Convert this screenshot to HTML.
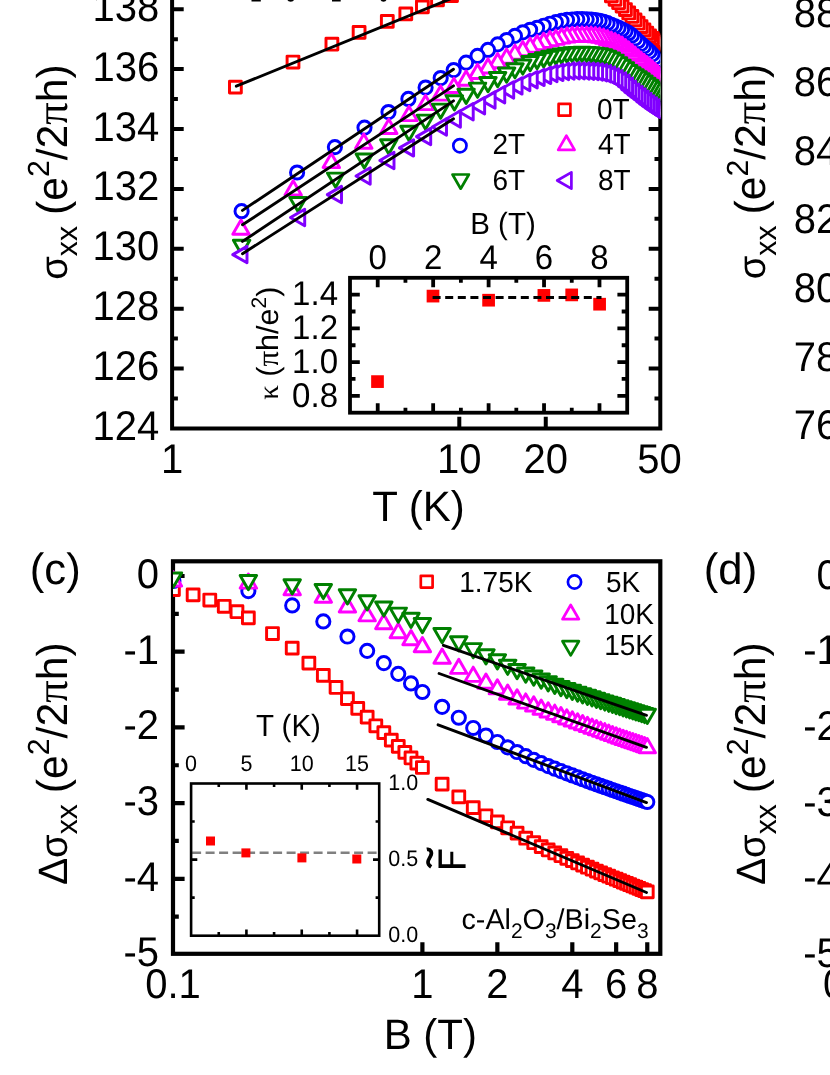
<!DOCTYPE html>
<html><head><meta charset="utf-8"><title>figure</title>
<style>html,body{margin:0;padding:0;background:#fff}svg{display:block;will-change:transform}text{font-family:"Liberation Sans",sans-serif;fill:#000;text-rendering:geometricPrecision}.sf{font-family:"Liberation Serif",serif}</style>
</head><body>
<svg width="830" height="1075" viewBox="0 0 830 1075">
<rect width="830" height="1075" fill="#fff"/>
<defs>
<clipPath id="ca"><rect x="172.1" y="-20" width="488.2" height="448.4"/></clipPath>
<clipPath id="cc"><rect x="173" y="561.3" width="487.3" height="392.5"/></clipPath>
</defs>
<g stroke="#000" stroke-width="4" fill="none" stroke-linecap="butt">
<path d="M172.1 -5V428.4H660.3V-5"/>
<path d="M172.1 398.46h5.8M660.3 398.46h-5.8M172.1 368.52h11.6M660.3 368.52h-11.6M172.1 338.58h5.8M660.3 338.58h-5.8M172.1 308.64h11.6M660.3 308.64h-11.6M172.1 278.7h5.8M660.3 278.7h-5.8M172.1 248.76h11.6M660.3 248.76h-11.6M172.1 218.82h5.8M660.3 218.82h-5.8M172.1 188.88h11.6M660.3 188.88h-11.6M172.1 158.94h5.8M660.3 158.94h-5.8M172.1 129h11.6M660.3 129h-11.6M172.1 99.06h5.8M660.3 99.06h-5.8M172.1 69.12h11.6M660.3 69.12h-11.6M172.1 39.18h5.8M660.3 39.18h-5.8M172.1 9.24h11.6M660.3 9.24h-11.6M172.1 -20.7h5.8M660.3 -20.7h-5.8M459.3 428.4v-11.6M545.76 428.4v-11.6"/>
</g>
<text transform="translate(159.3 439.9) scale(0.962 1)" font-size="41.6" text-anchor="end">124</text>
<text transform="translate(159.3 380.02) scale(0.962 1)" font-size="41.6" text-anchor="end">126</text>
<text transform="translate(159.3 320.14) scale(0.962 1)" font-size="41.6" text-anchor="end">128</text>
<text transform="translate(159.3 260.26) scale(0.962 1)" font-size="41.6" text-anchor="end">130</text>
<text transform="translate(159.3 200.38) scale(0.962 1)" font-size="41.6" text-anchor="end">132</text>
<text transform="translate(159.3 140.5) scale(0.962 1)" font-size="41.6" text-anchor="end">134</text>
<text transform="translate(159.3 80.62) scale(0.962 1)" font-size="41.6" text-anchor="end">136</text>
<text transform="translate(159.3 20.74) scale(0.962 1)" font-size="41.6" text-anchor="end">138</text>
<text transform="translate(172.1 473) scale(0.962 1)" font-size="41.6" text-anchor="middle">1</text>
<text transform="translate(459.3 473) scale(0.962 1)" font-size="41.6" text-anchor="middle">10</text>
<text transform="translate(545.76 473) scale(0.962 1)" font-size="41.6" text-anchor="middle">20</text>
<text transform="translate(659.5 473) scale(0.962 1)" font-size="41.6" text-anchor="middle">50</text>
<text transform="translate(418.4 521) scale(0.985 1)" font-size="42.64" text-anchor="middle">T (K)</text>
<g fill="#000"><rect x="251.5" y="0" width="9.3" height="1.5"/><ellipse cx="290.7" cy="-1.5" rx="3.6" ry="3.2"/><rect x="332" y="0" width="8.7" height="1.5"/><ellipse cx="383.5" cy="-1.5" rx="3.2" ry="3.2"/></g>
<g clip-path="url(#ca)" stroke-width="2.95" stroke-linejoin="round">
<rect x="654.22" y="38.7" width="11.8" height="11.8" fill="#fff" stroke="#ff0000"/>
<rect x="651.67" y="36.64" width="11.8" height="11.8" fill="#fff" stroke="#ff0000"/>
<rect x="649.07" y="34.63" width="11.8" height="11.8" fill="#fff" stroke="#ff0000"/>
<rect x="646.41" y="32.49" width="11.8" height="11.8" fill="#fff" stroke="#ff0000"/>
<rect x="643.7" y="30.01" width="11.8" height="11.8" fill="#fff" stroke="#ff0000"/>
<rect x="640.92" y="27.14" width="11.8" height="11.8" fill="#fff" stroke="#ff0000"/>
<rect x="638.08" y="23.99" width="11.8" height="11.8" fill="#fff" stroke="#ff0000"/>
<rect x="635.18" y="20.67" width="11.8" height="11.8" fill="#fff" stroke="#ff0000"/>
<rect x="632.2" y="17.31" width="11.8" height="11.8" fill="#fff" stroke="#ff0000"/>
<rect x="629.15" y="13.98" width="11.8" height="11.8" fill="#fff" stroke="#ff0000"/>
<rect x="626.03" y="10.57" width="11.8" height="11.8" fill="#fff" stroke="#ff0000"/>
<rect x="622.83" y="7.09" width="11.8" height="11.8" fill="#fff" stroke="#ff0000"/>
<rect x="619.54" y="3.6" width="11.8" height="11.8" fill="#fff" stroke="#ff0000"/>
<rect x="616.16" y="0.16" width="11.8" height="11.8" fill="#fff" stroke="#ff0000"/>
<rect x="612.69" y="-3.2" width="11.8" height="11.8" fill="#fff" stroke="#ff0000"/>
<rect x="609.12" y="-6.56" width="11.8" height="11.8" fill="#fff" stroke="#ff0000"/>
<rect x="605.45" y="-9.99" width="11.8" height="11.8" fill="#fff" stroke="#ff0000"/>
<rect x="601.66" y="-13.59" width="11.8" height="11.8" fill="#fff" stroke="#ff0000"/>
<rect x="597.75" y="-17.38" width="11.8" height="11.8" fill="#fff" stroke="#ff0000"/>
<rect x="593.72" y="-21.33" width="11.8" height="11.8" fill="#fff" stroke="#ff0000"/>
<rect x="445.6" y="-10.4" width="11.8" height="11.8" fill="#fff" stroke="#ff0000"/>
<rect x="431.6" y="-6.15" width="11.8" height="11.8" fill="#fff" stroke="#ff0000"/>
<rect x="416.5" y="1" width="11.8" height="11.8" fill="#fff" stroke="#ff0000"/>
<rect x="399.9" y="7.9" width="11.8" height="11.8" fill="#fff" stroke="#ff0000"/>
<rect x="381.4" y="15.4" width="11.8" height="11.8" fill="#fff" stroke="#ff0000"/>
<rect x="353.2" y="26.4" width="11.8" height="11.8" fill="#fff" stroke="#ff0000"/>
<rect x="326" y="38.3" width="11.8" height="11.8" fill="#fff" stroke="#ff0000"/>
<rect x="287.1" y="56.1" width="11.8" height="11.8" fill="#fff" stroke="#ff0000"/>
<rect x="229.5" y="81.2" width="11.8" height="11.8" fill="#fff" stroke="#ff0000"/>
<circle cx="662.62" cy="66.09" r="6.6" fill="#fff" stroke="#0000ff"/>
<circle cx="660.12" cy="63.14" r="6.6" fill="#fff" stroke="#0000ff"/>
<circle cx="657.57" cy="60.2" r="6.6" fill="#fff" stroke="#0000ff"/>
<circle cx="654.97" cy="57.27" r="6.6" fill="#fff" stroke="#0000ff"/>
<circle cx="652.31" cy="54.38" r="6.6" fill="#fff" stroke="#0000ff"/>
<circle cx="649.6" cy="51.57" r="6.6" fill="#fff" stroke="#0000ff"/>
<circle cx="646.82" cy="48.89" r="6.6" fill="#fff" stroke="#0000ff"/>
<circle cx="643.98" cy="46.36" r="6.6" fill="#fff" stroke="#0000ff"/>
<circle cx="641.08" cy="43.88" r="6.6" fill="#fff" stroke="#0000ff"/>
<circle cx="638.1" cy="41.21" r="6.6" fill="#fff" stroke="#0000ff"/>
<circle cx="635.05" cy="38.27" r="6.6" fill="#fff" stroke="#0000ff"/>
<circle cx="631.93" cy="35.44" r="6.6" fill="#fff" stroke="#0000ff"/>
<circle cx="628.73" cy="33.18" r="6.6" fill="#fff" stroke="#0000ff"/>
<circle cx="625.44" cy="31.23" r="6.6" fill="#fff" stroke="#0000ff"/>
<circle cx="622.06" cy="29.45" r="6.6" fill="#fff" stroke="#0000ff"/>
<circle cx="618.59" cy="27.8" r="6.6" fill="#fff" stroke="#0000ff"/>
<circle cx="615.02" cy="26.25" r="6.6" fill="#fff" stroke="#0000ff"/>
<circle cx="611.35" cy="24.73" r="6.6" fill="#fff" stroke="#0000ff"/>
<circle cx="607.56" cy="23.16" r="6.6" fill="#fff" stroke="#0000ff"/>
<circle cx="603.65" cy="21.73" r="6.6" fill="#fff" stroke="#0000ff"/>
<circle cx="599.62" cy="20.73" r="6.6" fill="#fff" stroke="#0000ff"/>
<circle cx="595.45" cy="20.13" r="6.6" fill="#fff" stroke="#0000ff"/>
<circle cx="591.14" cy="19.69" r="6.6" fill="#fff" stroke="#0000ff"/>
<circle cx="586.68" cy="19.36" r="6.6" fill="#fff" stroke="#0000ff"/>
<circle cx="582.05" cy="19.12" r="6.6" fill="#fff" stroke="#0000ff"/>
<circle cx="577.24" cy="19.16" r="6.6" fill="#fff" stroke="#0000ff"/>
<circle cx="572.23" cy="19.45" r="6.6" fill="#fff" stroke="#0000ff"/>
<circle cx="567.02" cy="19.91" r="6.6" fill="#fff" stroke="#0000ff"/>
<circle cx="561.58" cy="20.88" r="6.6" fill="#fff" stroke="#0000ff"/>
<circle cx="555.9" cy="22.19" r="6.6" fill="#fff" stroke="#0000ff"/>
<circle cx="549.94" cy="23.73" r="6.6" fill="#fff" stroke="#0000ff"/>
<circle cx="543.68" cy="25.73" r="6.6" fill="#fff" stroke="#0000ff"/>
<circle cx="537.09" cy="27.82" r="6.6" fill="#fff" stroke="#0000ff"/>
<circle cx="530.14" cy="29.78" r="6.6" fill="#fff" stroke="#0000ff"/>
<circle cx="522.77" cy="32.4" r="6.6" fill="#fff" stroke="#0000ff"/>
<circle cx="514.94" cy="35.89" r="6.6" fill="#fff" stroke="#0000ff"/>
<circle cx="506.59" cy="40.03" r="6.6" fill="#fff" stroke="#0000ff"/>
<circle cx="497.63" cy="44.35" r="6.6" fill="#fff" stroke="#0000ff"/>
<circle cx="487.99" cy="49.92" r="6.6" fill="#fff" stroke="#0000ff"/>
<circle cx="477.53" cy="55.92" r="6.6" fill="#fff" stroke="#0000ff"/>
<circle cx="466.12" cy="62.59" r="6.6" fill="#fff" stroke="#0000ff"/>
<circle cx="453.7" cy="70.08" r="6.6" fill="#fff" stroke="#0000ff"/>
<circle cx="440.7" cy="78.05" r="6.6" fill="#fff" stroke="#0000ff"/>
<circle cx="425.6" cy="87.51" r="6.6" fill="#fff" stroke="#0000ff"/>
<circle cx="408.4" cy="98.93" r="6.6" fill="#fff" stroke="#0000ff"/>
<circle cx="388.5" cy="112.07" r="6.6" fill="#fff" stroke="#0000ff"/>
<circle cx="364.5" cy="127.6" r="6.6" fill="#fff" stroke="#0000ff"/>
<circle cx="334.9" cy="147.1" r="6.6" fill="#fff" stroke="#0000ff"/>
<circle cx="297.1" cy="172.5" r="6.6" fill="#fff" stroke="#0000ff"/>
<circle cx="241.6" cy="211.2" r="6.6" fill="#fff" stroke="#0000ff"/>
<path d="M662.62 69.98L670.82 84.18L654.42 84.18Z" fill="#fff" stroke="#ff00ff"/>
<path d="M660.12 67.8L668.32 82L651.92 82Z" fill="#fff" stroke="#ff00ff"/>
<path d="M657.57 65.58L665.77 79.78L649.37 79.78Z" fill="#fff" stroke="#ff00ff"/>
<path d="M654.97 63.3L663.17 77.5L646.77 77.5Z" fill="#fff" stroke="#ff00ff"/>
<path d="M652.31 61L660.51 75.2L644.11 75.2Z" fill="#fff" stroke="#ff00ff"/>
<path d="M649.6 58.7L657.8 72.91L641.4 72.91Z" fill="#fff" stroke="#ff00ff"/>
<path d="M646.82 56.46L655.02 70.67L638.62 70.67Z" fill="#fff" stroke="#ff00ff"/>
<path d="M643.98 54.31L652.18 68.52L635.78 68.52Z" fill="#fff" stroke="#ff00ff"/>
<path d="M641.08 52.13L649.28 66.33L632.88 66.33Z" fill="#fff" stroke="#ff00ff"/>
<path d="M638.1 49.75L646.3 63.95L629.9 63.95Z" fill="#fff" stroke="#ff00ff"/>
<path d="M635.05 47.12L643.25 61.32L626.85 61.32Z" fill="#fff" stroke="#ff00ff"/>
<path d="M631.93 44.44L640.13 58.65L623.73 58.65Z" fill="#fff" stroke="#ff00ff"/>
<path d="M628.73 41.92L636.93 56.12L620.53 56.12Z" fill="#fff" stroke="#ff00ff"/>
<path d="M625.44 39.43L633.64 53.63L617.24 53.63Z" fill="#fff" stroke="#ff00ff"/>
<path d="M622.06 37.1L630.26 51.31L613.86 51.31Z" fill="#fff" stroke="#ff00ff"/>
<path d="M618.59 35.18L626.79 49.38L610.39 49.38Z" fill="#fff" stroke="#ff00ff"/>
<path d="M615.02 33.6L623.22 47.8L606.82 47.8Z" fill="#fff" stroke="#ff00ff"/>
<path d="M611.35 32.14L619.55 46.34L603.15 46.34Z" fill="#fff" stroke="#ff00ff"/>
<path d="M607.56 30.58L615.76 44.78L599.36 44.78Z" fill="#fff" stroke="#ff00ff"/>
<path d="M603.65 29.12L611.85 43.32L595.45 43.32Z" fill="#fff" stroke="#ff00ff"/>
<path d="M599.62 28.14L607.82 42.34L591.42 42.34Z" fill="#fff" stroke="#ff00ff"/>
<path d="M595.45 27.54L603.65 41.74L587.25 41.74Z" fill="#fff" stroke="#ff00ff"/>
<path d="M591.14 27.15L599.34 41.35L582.94 41.35Z" fill="#fff" stroke="#ff00ff"/>
<path d="M586.68 27L594.88 41.2L578.48 41.2Z" fill="#fff" stroke="#ff00ff"/>
<path d="M582.05 26.91L590.25 41.11L573.85 41.11Z" fill="#fff" stroke="#ff00ff"/>
<path d="M577.24 26.95L585.44 41.15L569.04 41.15Z" fill="#fff" stroke="#ff00ff"/>
<path d="M572.23 27.24L580.43 41.44L564.03 41.44Z" fill="#fff" stroke="#ff00ff"/>
<path d="M567.02 27.73L575.22 41.93L558.82 41.93Z" fill="#fff" stroke="#ff00ff"/>
<path d="M561.58 28.8L569.78 43L553.38 43Z" fill="#fff" stroke="#ff00ff"/>
<path d="M555.9 30.16L564.1 44.36L547.7 44.36Z" fill="#fff" stroke="#ff00ff"/>
<path d="M549.94 31.53L558.14 45.73L541.74 45.73Z" fill="#fff" stroke="#ff00ff"/>
<path d="M543.68 33.3L551.88 47.5L535.48 47.5Z" fill="#fff" stroke="#ff00ff"/>
<path d="M537.09 35.52L545.29 49.72L528.89 49.72Z" fill="#fff" stroke="#ff00ff"/>
<path d="M530.14 38.12L538.34 52.33L521.94 52.33Z" fill="#fff" stroke="#ff00ff"/>
<path d="M522.77 41.5L530.97 55.7L514.57 55.7Z" fill="#fff" stroke="#ff00ff"/>
<path d="M514.94 45.12L523.14 59.32L506.74 59.32Z" fill="#fff" stroke="#ff00ff"/>
<path d="M506.59 48.97L514.79 63.17L498.39 63.17Z" fill="#fff" stroke="#ff00ff"/>
<path d="M497.63 53.56L505.83 67.77L489.43 67.77Z" fill="#fff" stroke="#ff00ff"/>
<path d="M487.99 58.75L496.19 72.95L479.79 72.95Z" fill="#fff" stroke="#ff00ff"/>
<path d="M477.53 64.21L485.73 78.42L469.33 78.42Z" fill="#fff" stroke="#ff00ff"/>
<path d="M466.12 71.07L474.32 85.27L457.92 85.27Z" fill="#fff" stroke="#ff00ff"/>
<path d="M453.9 78.22L462.1 92.42L445.7 92.42Z" fill="#fff" stroke="#ff00ff"/>
<path d="M440.6 85.9L448.8 100.1L432.4 100.1Z" fill="#fff" stroke="#ff00ff"/>
<path d="M425.5 95.4L433.7 109.6L417.3 109.6Z" fill="#fff" stroke="#ff00ff"/>
<path d="M409 106.4L417.2 120.6L400.8 120.6Z" fill="#fff" stroke="#ff00ff"/>
<path d="M388.8 119.3L397 133.5L380.6 133.5Z" fill="#fff" stroke="#ff00ff"/>
<path d="M363.8 134.1L372 148.3L355.6 148.3Z" fill="#fff" stroke="#ff00ff"/>
<path d="M331.3 153.4L339.5 167.6L323.1 167.6Z" fill="#fff" stroke="#ff00ff"/>
<path d="M293.2 180.7L301.4 194.9L285 194.9Z" fill="#fff" stroke="#ff00ff"/>
<path d="M241 220.1L249.2 234.3L232.8 234.3Z" fill="#fff" stroke="#ff00ff"/>
<path d="M662.62 103.31L670.82 89.1L654.42 89.1Z" fill="#fff" stroke="#008000"/>
<path d="M660.12 101.68L668.32 87.48L651.92 87.48Z" fill="#fff" stroke="#008000"/>
<path d="M657.57 100.01L665.77 85.81L649.37 85.81Z" fill="#fff" stroke="#008000"/>
<path d="M654.97 98.28L663.17 84.08L646.77 84.08Z" fill="#fff" stroke="#008000"/>
<path d="M652.31 96.47L660.51 82.27L644.11 82.27Z" fill="#fff" stroke="#008000"/>
<path d="M649.6 94.52L657.8 80.31L641.4 80.31Z" fill="#fff" stroke="#008000"/>
<path d="M646.82 92.37L655.02 78.17L638.62 78.17Z" fill="#fff" stroke="#008000"/>
<path d="M643.98 90.13L652.18 75.93L635.78 75.93Z" fill="#fff" stroke="#008000"/>
<path d="M641.08 87.95L649.28 73.75L632.88 73.75Z" fill="#fff" stroke="#008000"/>
<path d="M638.1 85.94L646.3 71.74L629.9 71.74Z" fill="#fff" stroke="#008000"/>
<path d="M635.05 84L643.25 69.8L626.85 69.8Z" fill="#fff" stroke="#008000"/>
<path d="M631.93 81.96L640.13 67.75L623.73 67.75Z" fill="#fff" stroke="#008000"/>
<path d="M628.73 79.63L636.93 65.43L620.53 65.43Z" fill="#fff" stroke="#008000"/>
<path d="M625.44 77.04L633.64 62.84L617.24 62.84Z" fill="#fff" stroke="#008000"/>
<path d="M622.06 74.45L630.26 60.24L613.86 60.24Z" fill="#fff" stroke="#008000"/>
<path d="M618.59 71.87L626.79 57.67L610.39 57.67Z" fill="#fff" stroke="#008000"/>
<path d="M615.02 69.34L623.22 55.14L606.82 55.14Z" fill="#fff" stroke="#008000"/>
<path d="M611.35 67.28L619.55 53.08L603.15 53.08Z" fill="#fff" stroke="#008000"/>
<path d="M607.56 65.51L615.76 51.31L599.36 51.31Z" fill="#fff" stroke="#008000"/>
<path d="M603.65 64L611.85 49.79L595.45 49.79Z" fill="#fff" stroke="#008000"/>
<path d="M599.62 63.04L607.82 48.84L591.42 48.84Z" fill="#fff" stroke="#008000"/>
<path d="M595.45 62.44L603.65 48.24L587.25 48.24Z" fill="#fff" stroke="#008000"/>
<path d="M591.14 61.93L599.34 47.73L582.94 47.73Z" fill="#fff" stroke="#008000"/>
<path d="M586.68 61.6L594.88 47.39L578.48 47.39Z" fill="#fff" stroke="#008000"/>
<path d="M582.05 61.5L590.25 47.3L573.85 47.3Z" fill="#fff" stroke="#008000"/>
<path d="M577.24 61.62L585.44 47.42L569.04 47.42Z" fill="#fff" stroke="#008000"/>
<path d="M572.23 61.88L580.43 47.68L564.03 47.68Z" fill="#fff" stroke="#008000"/>
<path d="M567.02 62.32L575.22 48.12L558.82 48.12Z" fill="#fff" stroke="#008000"/>
<path d="M561.58 63.21L569.78 49.01L553.38 49.01Z" fill="#fff" stroke="#008000"/>
<path d="M555.9 64.23L564.1 50.03L547.7 50.03Z" fill="#fff" stroke="#008000"/>
<path d="M549.94 65.46L558.14 51.26L541.74 51.26Z" fill="#fff" stroke="#008000"/>
<path d="M543.68 66.98L551.88 52.78L535.48 52.78Z" fill="#fff" stroke="#008000"/>
<path d="M537.09 68.7L545.29 54.49L528.89 54.49Z" fill="#fff" stroke="#008000"/>
<path d="M530.14 70.73L538.34 56.53L521.94 56.53Z" fill="#fff" stroke="#008000"/>
<path d="M522.77 74.12L530.97 59.92L514.57 59.92Z" fill="#fff" stroke="#008000"/>
<path d="M514.94 77.88L523.14 63.68L506.74 63.68Z" fill="#fff" stroke="#008000"/>
<path d="M506.59 82.2L514.79 68L498.39 68Z" fill="#fff" stroke="#008000"/>
<path d="M497.63 86.74L505.83 72.53L489.43 72.53Z" fill="#fff" stroke="#008000"/>
<path d="M487.99 91.75L496.19 77.55L479.79 77.55Z" fill="#fff" stroke="#008000"/>
<path d="M477.53 97.34L485.73 83.14L469.33 83.14Z" fill="#fff" stroke="#008000"/>
<path d="M466.12 103.48L474.32 89.28L457.92 89.28Z" fill="#fff" stroke="#008000"/>
<path d="M454.4 109.95L462.6 95.74L446.2 95.74Z" fill="#fff" stroke="#008000"/>
<path d="M440.6 118.3L448.8 104.1L432.4 104.1Z" fill="#fff" stroke="#008000"/>
<path d="M425.5 129.3L433.7 115.1L417.3 115.1Z" fill="#fff" stroke="#008000"/>
<path d="M409 140.4L417.2 126.2L400.8 126.2Z" fill="#fff" stroke="#008000"/>
<path d="M388.8 153.9L397 139.7L380.6 139.7Z" fill="#fff" stroke="#008000"/>
<path d="M364.3 168.1L372.5 153.9L356.1 153.9Z" fill="#fff" stroke="#008000"/>
<path d="M335.6 187.3L343.8 173.1L327.4 173.1Z" fill="#fff" stroke="#008000"/>
<path d="M298 211.6L306.2 197.4L289.8 197.4Z" fill="#fff" stroke="#008000"/>
<path d="M241.6 254.5L249.8 240.3L233.4 240.3Z" fill="#fff" stroke="#008000"/>
<path d="M655.52 114.76L669.72 106.56L669.72 122.96Z" fill="#fff" stroke="#8000ff"/>
<path d="M653.02 113.08L667.22 104.88L667.22 121.28Z" fill="#fff" stroke="#8000ff"/>
<path d="M650.47 111.38L664.67 103.18L664.67 119.58Z" fill="#fff" stroke="#8000ff"/>
<path d="M647.87 109.65L662.07 101.45L662.07 117.85Z" fill="#fff" stroke="#8000ff"/>
<path d="M645.21 107.86L659.41 99.66L659.41 116.06Z" fill="#fff" stroke="#8000ff"/>
<path d="M642.49 105.96L656.7 97.76L656.7 114.16Z" fill="#fff" stroke="#8000ff"/>
<path d="M639.72 103.9L653.92 95.7L653.92 112.1Z" fill="#fff" stroke="#8000ff"/>
<path d="M636.88 101.62L651.08 93.42L651.08 109.82Z" fill="#fff" stroke="#8000ff"/>
<path d="M633.97 99.26L648.18 91.06L648.18 107.46Z" fill="#fff" stroke="#8000ff"/>
<path d="M631 96.95L645.2 88.75L645.2 105.15Z" fill="#fff" stroke="#8000ff"/>
<path d="M627.95 94.61L642.16 86.41L642.16 102.81Z" fill="#fff" stroke="#8000ff"/>
<path d="M624.83 92.13L639.03 83.93L639.03 100.33Z" fill="#fff" stroke="#8000ff"/>
<path d="M621.63 89.35L635.83 81.15L635.83 97.55Z" fill="#fff" stroke="#8000ff"/>
<path d="M618.34 86.21L632.54 78.01L632.54 94.41Z" fill="#fff" stroke="#8000ff"/>
<path d="M614.96 83.35L629.16 75.15L629.16 91.55Z" fill="#fff" stroke="#8000ff"/>
<path d="M611.49 80.97L625.69 72.77L625.69 89.17Z" fill="#fff" stroke="#8000ff"/>
<path d="M607.92 78.84L622.12 70.64L622.12 87.04Z" fill="#fff" stroke="#8000ff"/>
<path d="M604.24 77L618.45 68.8L618.45 85.2Z" fill="#fff" stroke="#8000ff"/>
<path d="M600.46 75.29L614.66 67.09L614.66 83.49Z" fill="#fff" stroke="#8000ff"/>
<path d="M596.55 73.79L610.75 65.59L610.75 81.99Z" fill="#fff" stroke="#8000ff"/>
<path d="M592.52 72.72L606.72 64.52L606.72 80.92Z" fill="#fff" stroke="#8000ff"/>
<path d="M588.35 72.02L602.55 63.82L602.55 80.22Z" fill="#fff" stroke="#8000ff"/>
<path d="M584.04 71.58L598.24 63.38L598.24 79.78Z" fill="#fff" stroke="#8000ff"/>
<path d="M579.58 71.3L593.78 63.1L593.78 79.5Z" fill="#fff" stroke="#8000ff"/>
<path d="M574.94 71.06L589.15 62.86L589.15 79.26Z" fill="#fff" stroke="#8000ff"/>
<path d="M570.14 70.88L584.34 62.68L584.34 79.08Z" fill="#fff" stroke="#8000ff"/>
<path d="M565.13 70.8L579.34 62.6L579.34 79Z" fill="#fff" stroke="#8000ff"/>
<path d="M559.92 70.97L574.12 62.77L574.12 79.17Z" fill="#fff" stroke="#8000ff"/>
<path d="M554.48 71.53L568.68 63.33L568.68 79.73Z" fill="#fff" stroke="#8000ff"/>
<path d="M548.8 72.42L563 64.22L563 80.62Z" fill="#fff" stroke="#8000ff"/>
<path d="M542.84 73.56L557.04 65.36L557.04 81.76Z" fill="#fff" stroke="#8000ff"/>
<path d="M536.58 75.42L550.78 67.22L550.78 83.62Z" fill="#fff" stroke="#8000ff"/>
<path d="M529.99 77.42L544.19 69.22L544.19 85.62Z" fill="#fff" stroke="#8000ff"/>
<path d="M523.04 79.7L537.24 71.5L537.24 87.9Z" fill="#fff" stroke="#8000ff"/>
<path d="M515.67 82.49L529.87 74.29L529.87 90.69Z" fill="#fff" stroke="#8000ff"/>
<path d="M507.84 85.94L522.04 77.74L522.04 94.14Z" fill="#fff" stroke="#8000ff"/>
<path d="M499.49 89.96L513.69 81.76L513.69 98.16Z" fill="#fff" stroke="#8000ff"/>
<path d="M490.53 94.76L504.74 86.56L504.74 102.96Z" fill="#fff" stroke="#8000ff"/>
<path d="M480.89 100.1L495.09 91.9L495.09 108.3Z" fill="#fff" stroke="#8000ff"/>
<path d="M470.43 105.77L484.63 97.57L484.63 113.97Z" fill="#fff" stroke="#8000ff"/>
<path d="M459.02 111.77L473.22 103.57L473.22 119.97Z" fill="#fff" stroke="#8000ff"/>
<path d="M446.2 119.04L460.4 110.84L460.4 127.24Z" fill="#fff" stroke="#8000ff"/>
<path d="M432.3 127L446.5 118.8L446.5 135.2Z" fill="#fff" stroke="#8000ff"/>
<path d="M416.5 136.6L430.7 128.4L430.7 144.8Z" fill="#fff" stroke="#8000ff"/>
<path d="M399.4 147.9L413.6 139.7L413.6 156.1Z" fill="#fff" stroke="#8000ff"/>
<path d="M379.8 160.5L394 152.3L394 168.7Z" fill="#fff" stroke="#8000ff"/>
<path d="M356 176L370.2 167.8L370.2 184.2Z" fill="#fff" stroke="#8000ff"/>
<path d="M327.3 194.6L341.5 186.4L341.5 202.8Z" fill="#fff" stroke="#8000ff"/>
<path d="M290.5 217.5L304.7 209.3L304.7 225.7Z" fill="#fff" stroke="#8000ff"/>
<path d="M232.8 254.6L247 246.4L247 262.8Z" fill="#fff" stroke="#8000ff"/>
</g>
<g stroke="#000" stroke-width="2.9" fill="none" stroke-linecap="round">
<path d="M236.3 86.2L453.5 -2.4"/>
<path d="M242.5 210.4L453.5 69.2"/>
<path d="M242.5 224.8L453.5 85.9"/>
<path d="M242.5 241.4L453.5 100.9"/>
<path d="M242.5 253.7L453.5 118.8"/>
</g>
<g stroke-width="2.7" stroke-linejoin="round">
<rect x="558.6" y="103.9" width="11.8" height="11.8" fill="none" stroke="#ff0000"/>
<circle cx="459.9" cy="145.7" r="6.6" fill="none" stroke="#0000ff"/>
<path d="M566.4 135.7L574.6 149.9L558.2 149.9Z" fill="none" stroke="#ff00ff"/>
<path d="M460.7 188.7L468.9 174.5L452.5 174.5Z" fill="none" stroke="#008000"/>
<path d="M557.2 180.5L571.4 172.3L571.4 188.7Z" fill="none" stroke="#8000ff"/>
</g>
<text transform="translate(597 118.6) scale(0.962 1)" font-size="29.12" text-anchor="start">0T</text>
<text transform="translate(492.5 154.1) scale(0.962 1)" font-size="29.12" text-anchor="start">2T</text>
<text transform="translate(598 154.1) scale(0.962 1)" font-size="29.12" text-anchor="start">4T</text>
<text transform="translate(492.5 190.2) scale(0.962 1)" font-size="29.12" text-anchor="start">6T</text>
<text transform="translate(598 190.2) scale(0.962 1)" font-size="29.12" text-anchor="start">8T</text>
<g stroke="#000" stroke-width="3.8" fill="none">
<rect x="350" y="277.8" width="277.2" height="134.9"/>
<path d="M377.72 277.8v9.5M377.72 412.7v-9.5M405.44 277.8v5M405.44 412.7v-5M433.16 277.8v9.5M433.16 412.7v-9.5M460.88 277.8v5M460.88 412.7v-5M488.6 277.8v9.5M488.6 412.7v-9.5M516.32 277.8v5M516.32 412.7v-5M544.04 277.8v9.5M544.04 412.7v-9.5M571.76 277.8v5M571.76 412.7v-5M599.48 277.8v9.5M599.48 412.7v-9.5M350 395.83h9.8M627.2 395.83h-9.8M350 378.97h5.5M627.2 378.97h-5.5M350 362.1h9.8M627.2 362.1h-9.8M350 345.24h5.5M627.2 345.24h-5.5M350 328.38h9.8M627.2 328.38h-9.8M350 311.51h5.5M627.2 311.51h-5.5M350 294.64h9.8M627.2 294.64h-9.8"/>
</g>
<g fill="#ff0000">
<rect x="371.15" y="375.25" width="12.7" height="12.7"/>
<rect x="426.65" y="289.75" width="12.7" height="12.7"/>
<rect x="482.25" y="293.85" width="12.7" height="12.7"/>
<rect x="537.55" y="289.05" width="12.7" height="12.7"/>
<rect x="565.35" y="288.55" width="12.7" height="12.7"/>
<rect x="593.25" y="297.85" width="12.7" height="12.7"/>
</g>
<path d="M432.6 297.4H601.5" stroke="#000" stroke-width="3" stroke-dasharray="8 4.6" fill="none"/>
<text transform="translate(377.72 268.6) scale(0.962 1)" font-size="34.32" text-anchor="middle">0</text>
<text transform="translate(433.16 268.6) scale(0.962 1)" font-size="34.32" text-anchor="middle">2</text>
<text transform="translate(488.6 268.6) scale(0.962 1)" font-size="34.32" text-anchor="middle">4</text>
<text transform="translate(544.04 268.6) scale(0.962 1)" font-size="34.32" text-anchor="middle">6</text>
<text transform="translate(599.48 268.6) scale(0.962 1)" font-size="34.32" text-anchor="middle">8</text>
<text transform="translate(503 233.6) scale(0.962 1)" font-size="30.68" text-anchor="middle">B (T)</text>
<text transform="translate(338 406.53) scale(0.962 1)" font-size="34.32" text-anchor="end">0.8</text>
<text transform="translate(338 372.8) scale(0.962 1)" font-size="34.32" text-anchor="end">1.0</text>
<text transform="translate(338 339.07) scale(0.962 1)" font-size="34.32" text-anchor="end">1.2</text>
<text transform="translate(338 305.34) scale(0.962 1)" font-size="34.32" text-anchor="end">1.4</text>
<text transform="translate(278.2 399.8) rotate(-90)" font-size="30.5"><tspan class="sf" font-size="29">κ</tspan> (<tspan class="sf" font-size="31">π</tspan>h/e<tspan font-size="21" dy="-12">2</tspan><tspan dy="12">)</tspan></text>
<text transform="translate(66.6 279.7) rotate(-90) scale(0.99 1)" font-size="43.1"><tspan font-size="38.5">σ</tspan><tspan font-size="30.5" dy="10.5">xx </tspan><tspan dy="-10.5" dx="2.6">(e</tspan><tspan font-size="30.5" dy="-17.5">2</tspan><tspan dy="17.5">/2</tspan><tspan class="sf" font-size="45">π</tspan>h)</text>
<text transform="translate(765.4 279.2) rotate(-90) scale(0.99 1)" font-size="43.1"><tspan font-size="38.5">σ</tspan><tspan font-size="30.5" dy="10.5">xx </tspan><tspan dy="-10.5" dx="2.6">(e</tspan><tspan font-size="30.5" dy="-17.5">2</tspan><tspan dy="17.5">/2</tspan><tspan class="sf" font-size="45">π</tspan>h)</text>
<text transform="translate(838.2 27.4) scale(0.962 1)" font-size="41.6" text-anchor="end">88</text>
<text transform="translate(838.2 96.04) scale(0.962 1)" font-size="41.6" text-anchor="end">86</text>
<text transform="translate(838.2 164.68) scale(0.962 1)" font-size="41.6" text-anchor="end">84</text>
<text transform="translate(838.2 233.32) scale(0.962 1)" font-size="41.6" text-anchor="end">82</text>
<text transform="translate(838.2 301.96) scale(0.962 1)" font-size="41.6" text-anchor="end">80</text>
<text transform="translate(838.2 370.6) scale(0.962 1)" font-size="41.6" text-anchor="end">78</text>
<text transform="translate(838.2 439.24) scale(0.962 1)" font-size="41.6" text-anchor="end">76</text>
<g stroke="#000" stroke-width="4.2" fill="none">
<rect x="173" y="561.3" width="487.3" height="392.5"/>
<path d="M173 576h11.6M173 613.85h5.8M173 651.7h11.6M173 689.55h5.8M173 727.4h11.6M173 765.25h5.8M173 803.1h11.6M173 840.95h5.8M173 878.8h11.6M173 916.65h5.8M422.4 953.8v-11.6M497.36 953.8v-11.6M572.31 953.8v-11.6M616.16 953.8v-11.6M647.27 953.8v-11.6"/>
</g>
<text transform="translate(159 587.8) scale(0.962 1)" font-size="41.6" text-anchor="end">0</text>
<text transform="translate(159 663.5) scale(0.962 1)" font-size="41.6" text-anchor="end">-1</text>
<text transform="translate(159 739.2) scale(0.962 1)" font-size="41.6" text-anchor="end">-2</text>
<text transform="translate(159 814.9) scale(0.962 1)" font-size="41.6" text-anchor="end">-3</text>
<text transform="translate(159 890.6) scale(0.962 1)" font-size="41.6" text-anchor="end">-4</text>
<text transform="translate(159 966.3) scale(0.962 1)" font-size="41.6" text-anchor="end">-5</text>
<text transform="translate(173 998.3) scale(0.962 1)" font-size="41.6" text-anchor="middle">0.1</text>
<text transform="translate(422.4 998.3) scale(0.962 1)" font-size="41.6" text-anchor="middle">1</text>
<text transform="translate(497.36 998.3) scale(0.962 1)" font-size="41.6" text-anchor="middle">2</text>
<text transform="translate(572.31 998.3) scale(0.962 1)" font-size="41.6" text-anchor="middle">4</text>
<text transform="translate(616.16 998.3) scale(0.962 1)" font-size="41.6" text-anchor="middle">6</text>
<text transform="translate(647.27 998.3) scale(0.962 1)" font-size="41.6" text-anchor="middle">8</text>
<text transform="translate(430.3 1048.9) scale(0.985 1)" font-size="42.64" text-anchor="middle">B (T)</text>
<text transform="translate(29.8 583.5) scale(1.0 1)" font-size="43.68" text-anchor="start">(c)</text>
<text transform="translate(703.8 583.5) scale(1.0 1)" font-size="43.68" text-anchor="start">(d)</text>
<text transform="translate(66.6 885) rotate(-90) scale(0.99 1)" font-size="43.1"><tspan font-size="41">Δ</tspan><tspan font-size="38.5">σ</tspan><tspan font-size="30.5" dy="10.5">xx </tspan><tspan dy="-10.5" dx="2.6">(e</tspan><tspan font-size="30.5" dy="-17.5">2</tspan><tspan dy="17.5">/2</tspan><tspan class="sf" font-size="45">π</tspan>h)</text>
<text transform="translate(765.4 885) rotate(-90) scale(0.99 1)" font-size="43.1"><tspan font-size="41">Δ</tspan><tspan font-size="38.5">σ</tspan><tspan font-size="30.5" dy="10.5">xx </tspan><tspan dy="-10.5" dx="2.6">(e</tspan><tspan font-size="30.5" dy="-17.5">2</tspan><tspan dy="17.5">/2</tspan><tspan class="sf" font-size="45">π</tspan>h)</text>
<text transform="translate(838.8 588.6) scale(0.962 1)" font-size="41.6" text-anchor="end">0</text>
<text transform="translate(838.8 664.3) scale(0.962 1)" font-size="41.6" text-anchor="end">-1</text>
<text transform="translate(838.8 740) scale(0.962 1)" font-size="41.6" text-anchor="end">-2</text>
<text transform="translate(838.8 815.7) scale(0.962 1)" font-size="41.6" text-anchor="end">-3</text>
<text transform="translate(838.8 891.4) scale(0.962 1)" font-size="41.6" text-anchor="end">-4</text>
<text transform="translate(838.8 967.1) scale(0.962 1)" font-size="41.6" text-anchor="end">-5</text>
<text transform="translate(834 998.3) scale(0.962 1)" font-size="41.6" text-anchor="middle">0</text>
<g clip-path="url(#cc)" stroke-width="2.95" stroke-linejoin="round">
<rect x="167.5" y="583.73" width="11.8" height="11.8" fill="#fff" stroke="#ff0000"/>
<rect x="187.22" y="589" width="11.8" height="11.8" fill="#fff" stroke="#ff0000"/>
<rect x="203.89" y="594.11" width="11.8" height="11.8" fill="#fff" stroke="#ff0000"/>
<rect x="218.33" y="600.36" width="11.8" height="11.8" fill="#fff" stroke="#ff0000"/>
<rect x="231.06" y="605.8" width="11.8" height="11.8" fill="#fff" stroke="#ff0000"/>
<rect x="242.46" y="611.92" width="11.8" height="11.8" fill="#fff" stroke="#ff0000"/>
<rect x="266.59" y="627.61" width="11.8" height="11.8" fill="#fff" stroke="#ff0000"/>
<rect x="286.3" y="642.15" width="11.8" height="11.8" fill="#fff" stroke="#ff0000"/>
<rect x="302.97" y="657.17" width="11.8" height="11.8" fill="#fff" stroke="#ff0000"/>
<rect x="317.41" y="669.44" width="11.8" height="11.8" fill="#fff" stroke="#ff0000"/>
<rect x="330.15" y="681.56" width="11.8" height="11.8" fill="#fff" stroke="#ff0000"/>
<rect x="341.54" y="692.71" width="11.8" height="11.8" fill="#fff" stroke="#ff0000"/>
<rect x="351.85" y="702.4" width="11.8" height="11.8" fill="#fff" stroke="#ff0000"/>
<rect x="361.26" y="711.26" width="11.8" height="11.8" fill="#fff" stroke="#ff0000"/>
<rect x="369.92" y="719.89" width="11.8" height="11.8" fill="#fff" stroke="#ff0000"/>
<rect x="377.93" y="726.7" width="11.8" height="11.8" fill="#fff" stroke="#ff0000"/>
<rect x="385.39" y="734.15" width="11.8" height="11.8" fill="#fff" stroke="#ff0000"/>
<rect x="392.37" y="740.47" width="11.8" height="11.8" fill="#fff" stroke="#ff0000"/>
<rect x="398.93" y="746.4" width="11.8" height="11.8" fill="#fff" stroke="#ff0000"/>
<rect x="405.11" y="752.06" width="11.8" height="11.8" fill="#fff" stroke="#ff0000"/>
<rect x="410.95" y="757.29" width="11.8" height="11.8" fill="#fff" stroke="#ff0000"/>
<rect x="416.5" y="761.6" width="11.8" height="11.8" fill="#fff" stroke="#ff0000"/>
<rect x="436.22" y="778.27" width="11.8" height="11.8" fill="#fff" stroke="#ff0000"/>
<rect x="452.89" y="791.04" width="11.8" height="11.8" fill="#fff" stroke="#ff0000"/>
<rect x="467.33" y="801.65" width="11.8" height="11.8" fill="#fff" stroke="#ff0000"/>
<rect x="480.06" y="809.85" width="11.8" height="11.8" fill="#fff" stroke="#ff0000"/>
<rect x="491.46" y="816.01" width="11.8" height="11.8" fill="#fff" stroke="#ff0000"/>
<rect x="501.76" y="821.88" width="11.8" height="11.8" fill="#fff" stroke="#ff0000"/>
<rect x="511.17" y="827.31" width="11.8" height="11.8" fill="#fff" stroke="#ff0000"/>
<rect x="519.83" y="832.34" width="11.8" height="11.8" fill="#fff" stroke="#ff0000"/>
<rect x="527.84" y="836.83" width="11.8" height="11.8" fill="#fff" stroke="#ff0000"/>
<rect x="535.3" y="840.7" width="11.8" height="11.8" fill="#fff" stroke="#ff0000"/>
<rect x="542.28" y="844.07" width="11.8" height="11.8" fill="#fff" stroke="#ff0000"/>
<rect x="548.84" y="847.08" width="11.8" height="11.8" fill="#fff" stroke="#ff0000"/>
<rect x="555.02" y="849.82" width="11.8" height="11.8" fill="#fff" stroke="#ff0000"/>
<rect x="560.87" y="852.37" width="11.8" height="11.8" fill="#fff" stroke="#ff0000"/>
<rect x="566.41" y="854.76" width="11.8" height="11.8" fill="#fff" stroke="#ff0000"/>
<rect x="571.69" y="857.05" width="11.8" height="11.8" fill="#fff" stroke="#ff0000"/>
<rect x="576.72" y="859.25" width="11.8" height="11.8" fill="#fff" stroke="#ff0000"/>
<rect x="581.53" y="861.34" width="11.8" height="11.8" fill="#fff" stroke="#ff0000"/>
<rect x="586.13" y="863.32" width="11.8" height="11.8" fill="#fff" stroke="#ff0000"/>
<rect x="590.54" y="865.2" width="11.8" height="11.8" fill="#fff" stroke="#ff0000"/>
<rect x="594.78" y="866.99" width="11.8" height="11.8" fill="#fff" stroke="#ff0000"/>
<rect x="598.87" y="868.68" width="11.8" height="11.8" fill="#fff" stroke="#ff0000"/>
<rect x="602.8" y="870.3" width="11.8" height="11.8" fill="#fff" stroke="#ff0000"/>
<rect x="606.59" y="871.85" width="11.8" height="11.8" fill="#fff" stroke="#ff0000"/>
<rect x="610.26" y="873.34" width="11.8" height="11.8" fill="#fff" stroke="#ff0000"/>
<rect x="613.81" y="874.78" width="11.8" height="11.8" fill="#fff" stroke="#ff0000"/>
<rect x="617.24" y="876.18" width="11.8" height="11.8" fill="#fff" stroke="#ff0000"/>
<rect x="620.57" y="877.53" width="11.8" height="11.8" fill="#fff" stroke="#ff0000"/>
<rect x="623.79" y="878.83" width="11.8" height="11.8" fill="#fff" stroke="#ff0000"/>
<rect x="626.93" y="880.1" width="11.8" height="11.8" fill="#fff" stroke="#ff0000"/>
<rect x="629.98" y="881.33" width="11.8" height="11.8" fill="#fff" stroke="#ff0000"/>
<rect x="632.94" y="882.53" width="11.8" height="11.8" fill="#fff" stroke="#ff0000"/>
<rect x="635.82" y="883.68" width="11.8" height="11.8" fill="#fff" stroke="#ff0000"/>
<rect x="638.63" y="884.81" width="11.8" height="11.8" fill="#fff" stroke="#ff0000"/>
<rect x="641.37" y="885.91" width="11.8" height="11.8" fill="#fff" stroke="#ff0000"/>
<circle cx="173.4" cy="581" r="6.6" fill="#fff" stroke="#0000ff"/>
<circle cx="248.36" cy="591.07" r="6.6" fill="#fff" stroke="#0000ff"/>
<circle cx="292.2" cy="605.42" r="6.6" fill="#fff" stroke="#0000ff"/>
<circle cx="323.31" cy="621.42" r="6.6" fill="#fff" stroke="#0000ff"/>
<circle cx="347.44" cy="636.54" r="6.6" fill="#fff" stroke="#0000ff"/>
<circle cx="367.16" cy="650.85" r="6.6" fill="#fff" stroke="#0000ff"/>
<circle cx="383.83" cy="663.09" r="6.6" fill="#fff" stroke="#0000ff"/>
<circle cx="398.27" cy="673.85" r="6.6" fill="#fff" stroke="#0000ff"/>
<circle cx="411.01" cy="683.43" r="6.6" fill="#fff" stroke="#0000ff"/>
<circle cx="422.4" cy="691.98" r="6.6" fill="#fff" stroke="#0000ff"/>
<circle cx="442.12" cy="706.8" r="6.6" fill="#fff" stroke="#0000ff"/>
<circle cx="458.79" cy="717.7" r="6.6" fill="#fff" stroke="#0000ff"/>
<circle cx="473.23" cy="727.98" r="6.6" fill="#fff" stroke="#0000ff"/>
<circle cx="485.96" cy="735.53" r="6.6" fill="#fff" stroke="#0000ff"/>
<circle cx="497.36" cy="741.95" r="6.6" fill="#fff" stroke="#0000ff"/>
<circle cx="507.66" cy="747.31" r="6.6" fill="#fff" stroke="#0000ff"/>
<circle cx="517.07" cy="752.01" r="6.6" fill="#fff" stroke="#0000ff"/>
<circle cx="525.73" cy="756.16" r="6.6" fill="#fff" stroke="#0000ff"/>
<circle cx="533.74" cy="759.84" r="6.6" fill="#fff" stroke="#0000ff"/>
<circle cx="541.2" cy="763.12" r="6.6" fill="#fff" stroke="#0000ff"/>
<circle cx="548.18" cy="766.05" r="6.6" fill="#fff" stroke="#0000ff"/>
<circle cx="554.74" cy="768.69" r="6.6" fill="#fff" stroke="#0000ff"/>
<circle cx="560.92" cy="771.1" r="6.6" fill="#fff" stroke="#0000ff"/>
<circle cx="566.77" cy="773.33" r="6.6" fill="#fff" stroke="#0000ff"/>
<circle cx="572.31" cy="775.42" r="6.6" fill="#fff" stroke="#0000ff"/>
<circle cx="577.59" cy="777.4" r="6.6" fill="#fff" stroke="#0000ff"/>
<circle cx="582.62" cy="779.28" r="6.6" fill="#fff" stroke="#0000ff"/>
<circle cx="587.43" cy="781.05" r="6.6" fill="#fff" stroke="#0000ff"/>
<circle cx="592.03" cy="782.72" r="6.6" fill="#fff" stroke="#0000ff"/>
<circle cx="596.44" cy="784.31" r="6.6" fill="#fff" stroke="#0000ff"/>
<circle cx="600.68" cy="785.82" r="6.6" fill="#fff" stroke="#0000ff"/>
<circle cx="604.77" cy="787.26" r="6.6" fill="#fff" stroke="#0000ff"/>
<circle cx="608.7" cy="788.64" r="6.6" fill="#fff" stroke="#0000ff"/>
<circle cx="612.49" cy="789.97" r="6.6" fill="#fff" stroke="#0000ff"/>
<circle cx="616.16" cy="791.26" r="6.6" fill="#fff" stroke="#0000ff"/>
<circle cx="619.71" cy="792.5" r="6.6" fill="#fff" stroke="#0000ff"/>
<circle cx="623.14" cy="793.69" r="6.6" fill="#fff" stroke="#0000ff"/>
<circle cx="626.47" cy="794.85" r="6.6" fill="#fff" stroke="#0000ff"/>
<circle cx="629.69" cy="795.97" r="6.6" fill="#fff" stroke="#0000ff"/>
<circle cx="632.83" cy="797.04" r="6.6" fill="#fff" stroke="#0000ff"/>
<circle cx="635.88" cy="798.09" r="6.6" fill="#fff" stroke="#0000ff"/>
<circle cx="638.84" cy="799.1" r="6.6" fill="#fff" stroke="#0000ff"/>
<circle cx="641.72" cy="800.08" r="6.6" fill="#fff" stroke="#0000ff"/>
<circle cx="644.53" cy="801.03" r="6.6" fill="#fff" stroke="#0000ff"/>
<circle cx="647.27" cy="801.95" r="6.6" fill="#fff" stroke="#0000ff"/>
<path d="M173.4 571.8L181.6 586L165.2 586Z" fill="#fff" stroke="#ff00ff"/>
<path d="M248.36 573.93L256.56 588.13L240.16 588.13Z" fill="#fff" stroke="#ff00ff"/>
<path d="M292.2 580.59L300.4 594.79L284 594.79Z" fill="#fff" stroke="#ff00ff"/>
<path d="M323.31 588.09L331.51 602.29L315.11 602.29Z" fill="#fff" stroke="#ff00ff"/>
<path d="M347.44 597.81L355.64 612.01L339.24 612.01Z" fill="#fff" stroke="#ff00ff"/>
<path d="M367.16 606.65L375.36 620.86L358.96 620.86Z" fill="#fff" stroke="#ff00ff"/>
<path d="M383.83 614.61L392.03 628.82L375.63 628.82Z" fill="#fff" stroke="#ff00ff"/>
<path d="M398.27 623.54L406.47 637.74L390.07 637.74Z" fill="#fff" stroke="#ff00ff"/>
<path d="M411.01 630.49L419.21 644.69L402.81 644.69Z" fill="#fff" stroke="#ff00ff"/>
<path d="M422.4 637.5L430.6 651.7L414.2 651.7Z" fill="#fff" stroke="#ff00ff"/>
<path d="M442.12 649.03L450.32 663.23L433.92 663.23Z" fill="#fff" stroke="#ff00ff"/>
<path d="M458.79 659.19L466.99 673.39L450.59 673.39Z" fill="#fff" stroke="#ff00ff"/>
<path d="M473.23 667.16L481.43 681.37L465.03 681.37Z" fill="#fff" stroke="#ff00ff"/>
<path d="M485.96 674.03L494.16 688.23L477.76 688.23Z" fill="#fff" stroke="#ff00ff"/>
<path d="M497.36 679.68L505.56 693.88L489.16 693.88Z" fill="#fff" stroke="#ff00ff"/>
<path d="M507.66 685.08L515.86 699.29L499.46 699.29Z" fill="#fff" stroke="#ff00ff"/>
<path d="M517.07 689.73L525.27 703.94L508.87 703.94Z" fill="#fff" stroke="#ff00ff"/>
<path d="M525.73 693.91L533.93 708.11L517.53 708.11Z" fill="#fff" stroke="#ff00ff"/>
<path d="M533.74 696.84L541.94 711.04L525.54 711.04Z" fill="#fff" stroke="#ff00ff"/>
<path d="M541.2 700.04L549.4 714.24L533 714.24Z" fill="#fff" stroke="#ff00ff"/>
<path d="M548.18 702.71L556.38 716.92L539.98 716.92Z" fill="#fff" stroke="#ff00ff"/>
<path d="M554.74 705.15L562.94 719.35L546.54 719.35Z" fill="#fff" stroke="#ff00ff"/>
<path d="M560.92 707.53L569.12 721.73L552.72 721.73Z" fill="#fff" stroke="#ff00ff"/>
<path d="M566.77 709.76L574.97 723.96L558.57 723.96Z" fill="#fff" stroke="#ff00ff"/>
<path d="M572.31 711.81L580.51 726.01L564.11 726.01Z" fill="#fff" stroke="#ff00ff"/>
<path d="M577.59 713.72L585.79 727.92L569.39 727.92Z" fill="#fff" stroke="#ff00ff"/>
<path d="M582.62 715.55L590.82 729.76L574.42 729.76Z" fill="#fff" stroke="#ff00ff"/>
<path d="M587.43 717.31L595.63 731.51L579.23 731.51Z" fill="#fff" stroke="#ff00ff"/>
<path d="M592.03 719L600.23 733.2L583.83 733.2Z" fill="#fff" stroke="#ff00ff"/>
<path d="M596.44 720.61L604.64 734.81L588.24 734.81Z" fill="#fff" stroke="#ff00ff"/>
<path d="M600.68 722.16L608.88 736.36L592.48 736.36Z" fill="#fff" stroke="#ff00ff"/>
<path d="M604.77 723.65L612.97 737.85L596.57 737.85Z" fill="#fff" stroke="#ff00ff"/>
<path d="M608.7 725.07L616.9 739.27L600.5 739.27Z" fill="#fff" stroke="#ff00ff"/>
<path d="M612.49 726.43L620.69 740.64L604.29 740.64Z" fill="#fff" stroke="#ff00ff"/>
<path d="M616.16 727.74L624.36 741.94L607.96 741.94Z" fill="#fff" stroke="#ff00ff"/>
<path d="M619.71 729L627.91 743.2L611.51 743.2Z" fill="#fff" stroke="#ff00ff"/>
<path d="M623.14 730.2L631.34 744.4L614.94 744.4Z" fill="#fff" stroke="#ff00ff"/>
<path d="M626.47 731.36L634.67 745.56L618.27 745.56Z" fill="#fff" stroke="#ff00ff"/>
<path d="M629.69 732.48L637.89 746.68L621.49 746.68Z" fill="#fff" stroke="#ff00ff"/>
<path d="M632.83 733.56L641.03 747.76L624.63 747.76Z" fill="#fff" stroke="#ff00ff"/>
<path d="M635.88 734.6L644.08 748.8L627.68 748.8Z" fill="#fff" stroke="#ff00ff"/>
<path d="M638.84 735.61L647.04 749.81L630.64 749.81Z" fill="#fff" stroke="#ff00ff"/>
<path d="M641.72 736.59L649.92 750.79L633.52 750.79Z" fill="#fff" stroke="#ff00ff"/>
<path d="M644.53 737.53L652.73 751.74L636.33 751.74Z" fill="#fff" stroke="#ff00ff"/>
<path d="M647.27 738.45L655.47 752.66L639.07 752.66Z" fill="#fff" stroke="#ff00ff"/>
<path d="M173.4 587.1L181.6 572.9L165.2 572.9Z" fill="#fff" stroke="#008000"/>
<path d="M248.36 589.65L256.56 575.45L240.16 575.45Z" fill="#fff" stroke="#008000"/>
<path d="M292.2 594.04L300.4 579.84L284 579.84Z" fill="#fff" stroke="#008000"/>
<path d="M323.31 598.61L331.51 584.41L315.11 584.41Z" fill="#fff" stroke="#008000"/>
<path d="M347.44 603.89L355.64 589.69L339.24 589.69Z" fill="#fff" stroke="#008000"/>
<path d="M367.16 609.99L375.36 595.79L358.96 595.79Z" fill="#fff" stroke="#008000"/>
<path d="M383.83 616.11L392.03 601.91L375.63 601.91Z" fill="#fff" stroke="#008000"/>
<path d="M398.27 622.31L406.47 608.11L390.07 608.11Z" fill="#fff" stroke="#008000"/>
<path d="M411.01 627.5L419.21 613.3L402.81 613.3Z" fill="#fff" stroke="#008000"/>
<path d="M422.4 632.64L430.6 618.44L414.2 618.44Z" fill="#fff" stroke="#008000"/>
<path d="M442.12 642.71L450.32 628.51L433.92 628.51Z" fill="#fff" stroke="#008000"/>
<path d="M458.79 650.89L466.99 636.69L450.59 636.69Z" fill="#fff" stroke="#008000"/>
<path d="M473.23 657.83L481.43 643.63L465.03 643.63Z" fill="#fff" stroke="#008000"/>
<path d="M485.96 664.05L494.16 649.84L477.76 649.84Z" fill="#fff" stroke="#008000"/>
<path d="M497.36 668.97L505.56 654.77L489.16 654.77Z" fill="#fff" stroke="#008000"/>
<path d="M507.66 674.37L515.86 660.17L499.46 660.17Z" fill="#fff" stroke="#008000"/>
<path d="M517.07 678.65L525.27 664.45L508.87 664.45Z" fill="#fff" stroke="#008000"/>
<path d="M525.73 682.21L533.93 668.01L517.53 668.01Z" fill="#fff" stroke="#008000"/>
<path d="M533.74 685.24L541.94 671.03L525.54 671.03Z" fill="#fff" stroke="#008000"/>
<path d="M541.2 688.24L549.4 674.04L533 674.04Z" fill="#fff" stroke="#008000"/>
<path d="M548.18 691.01L556.38 676.81L539.98 676.81Z" fill="#fff" stroke="#008000"/>
<path d="M554.74 693.53L562.94 679.33L546.54 679.33Z" fill="#fff" stroke="#008000"/>
<path d="M560.92 695.68L569.12 681.48L552.72 681.48Z" fill="#fff" stroke="#008000"/>
<path d="M566.77 697.67L574.97 683.47L558.57 683.47Z" fill="#fff" stroke="#008000"/>
<path d="M572.31 699.54L580.51 685.34L564.11 685.34Z" fill="#fff" stroke="#008000"/>
<path d="M577.59 701.3L585.79 687.1L569.39 687.1Z" fill="#fff" stroke="#008000"/>
<path d="M582.62 702.97L590.82 688.76L574.42 688.76Z" fill="#fff" stroke="#008000"/>
<path d="M587.43 704.54L595.63 690.34L579.23 690.34Z" fill="#fff" stroke="#008000"/>
<path d="M592.03 706.04L600.23 691.83L583.83 691.83Z" fill="#fff" stroke="#008000"/>
<path d="M596.44 707.46L604.64 693.26L588.24 693.26Z" fill="#fff" stroke="#008000"/>
<path d="M600.68 708.82L608.88 694.62L592.48 694.62Z" fill="#fff" stroke="#008000"/>
<path d="M604.77 710.12L612.97 695.91L596.57 695.91Z" fill="#fff" stroke="#008000"/>
<path d="M608.7 711.36L616.9 697.15L600.5 697.15Z" fill="#fff" stroke="#008000"/>
<path d="M612.49 712.55L620.69 698.34L604.29 698.34Z" fill="#fff" stroke="#008000"/>
<path d="M616.16 713.7L624.36 699.49L607.96 699.49Z" fill="#fff" stroke="#008000"/>
<path d="M619.71 714.81L627.91 700.61L611.51 700.61Z" fill="#fff" stroke="#008000"/>
<path d="M623.14 715.89L631.34 701.69L614.94 701.69Z" fill="#fff" stroke="#008000"/>
<path d="M626.47 716.94L634.67 702.73L618.27 702.73Z" fill="#fff" stroke="#008000"/>
<path d="M629.69 717.95L637.89 703.75L621.49 703.75Z" fill="#fff" stroke="#008000"/>
<path d="M632.83 718.94L641.03 704.73L624.63 704.73Z" fill="#fff" stroke="#008000"/>
<path d="M635.88 719.89L644.08 705.69L627.68 705.69Z" fill="#fff" stroke="#008000"/>
<path d="M638.84 720.82L647.04 706.62L630.64 706.62Z" fill="#fff" stroke="#008000"/>
<path d="M641.72 721.73L649.92 707.53L633.52 707.53Z" fill="#fff" stroke="#008000"/>
<path d="M644.53 722.61L652.73 708.41L636.33 708.41Z" fill="#fff" stroke="#008000"/>
<path d="M647.27 723.47L655.47 709.27L639.07 709.27Z" fill="#fff" stroke="#008000"/>
</g>
<g stroke="#000" stroke-width="2.9" fill="none" stroke-linecap="round">
<path d="M427.8 799.4L646.5 892.5"/>
<path d="M438.1 724.8L646.5 802.6"/>
<path d="M439.1 673.5L646.5 747.3"/>
<path d="M443.4 645.3L646.5 715.3"/>
</g>
<g stroke-width="2.7" stroke-linejoin="round">
<rect x="420.8" y="575.8" width="11.8" height="11.8" fill="none" stroke="#ff0000"/>
<circle cx="574.5" cy="582" r="6.6" fill="none" stroke="#0000ff"/>
<path d="M570.7 605L578.9 619.2L562.5 619.2Z" fill="none" stroke="#ff00ff"/>
<path d="M570.7 655.4L578.9 641.2L562.5 641.2Z" fill="none" stroke="#008000"/>
</g>
<text transform="translate(459.2 591.6) scale(0.962 1)" font-size="29.12" text-anchor="start">1.75K</text>
<text transform="translate(606 591.6) scale(0.962 1)" font-size="29.12" text-anchor="start">5K</text>
<text transform="translate(604.2 623.7) scale(0.962 1)" font-size="29.12" text-anchor="start">10K</text>
<text transform="translate(604.2 655) scale(0.962 1)" font-size="29.12" text-anchor="start">15K</text>
<text x="461.5" y="929.2" font-size="28.7">c-Al<tspan font-size="21" dy="8.8">2</tspan><tspan dy="-8.8">O</tspan><tspan font-size="21" dy="8.8">3</tspan><tspan dy="-8.8">/Bi</tspan><tspan font-size="21" dy="8.8">2</tspan><tspan dy="-8.8">Se</tspan><tspan font-size="21" dy="8.8">3</tspan></text>
<rect x="191.1" y="783.5" width="188.1" height="152.2" fill="#fff" stroke="none"/>
<path d="M192.1 852.75H378.2" stroke="#808080" stroke-width="2.6" stroke-dasharray="9 4.5" fill="none"/>
<g stroke="#000" stroke-width="2.6" fill="none">
<rect x="191.1" y="783.5" width="188.1" height="152.2"/>
<path d="M218.76 783.5v3.6M218.76 935.7v-3.6M246.42 783.5v6.2M246.42 935.7v-6.2M274.09 783.5v3.6M274.09 935.7v-3.6M301.75 783.5v6.2M301.75 935.7v-6.2M329.41 783.5v3.6M329.41 935.7v-3.6M357.07 783.5v6.2M357.07 935.7v-6.2M191.1 897.65h3.6M379.2 897.65h-3.6M191.1 859.6h6.2M379.2 859.6h-6.2M191.1 821.55h3.6M379.2 821.55h-3.6"/>
</g>
<g fill="#ff0000">
<rect x="206" y="836.5" width="9" height="9"/>
<rect x="241.4" y="848.4" width="9" height="9"/>
<rect x="297.4" y="853.4" width="9" height="9"/>
<rect x="352.3" y="854.5" width="9" height="9"/>
</g>
<text transform="translate(191.1 770.5) scale(0.962 1)" font-size="22.36" text-anchor="middle">0</text>
<text transform="translate(246.42 770.5) scale(0.962 1)" font-size="22.36" text-anchor="middle">5</text>
<text transform="translate(301.75 770.5) scale(0.962 1)" font-size="22.36" text-anchor="middle">10</text>
<text transform="translate(357.07 770.5) scale(0.962 1)" font-size="22.36" text-anchor="middle">15</text>
<text transform="translate(288.4 736.1) scale(0.962 1)" font-size="30.68" text-anchor="middle">T (K)</text>
<text transform="translate(388.3 790.1) scale(0.962 1)" font-size="22.36" text-anchor="start">1.0</text>
<text transform="translate(388.3 866.2) scale(0.962 1)" font-size="22.36" text-anchor="start">0.5</text>
<text transform="translate(388.3 942.3) scale(0.962 1)" font-size="22.36" text-anchor="start">0.0</text>
<path d="M438.5 849.5H441.9V864.3H450.3V851.8H453.3V864.3H465.6V867.9H438.5Z" fill="#000"/>
<path d="M426.8 849.4C430.6 848.6 432.7 852.4 430.4 856.4C428.4 860 425.8 863.2 431.2 866.9" stroke="#000" stroke-width="3.7" fill="none"/>
</svg>
</body></html>
